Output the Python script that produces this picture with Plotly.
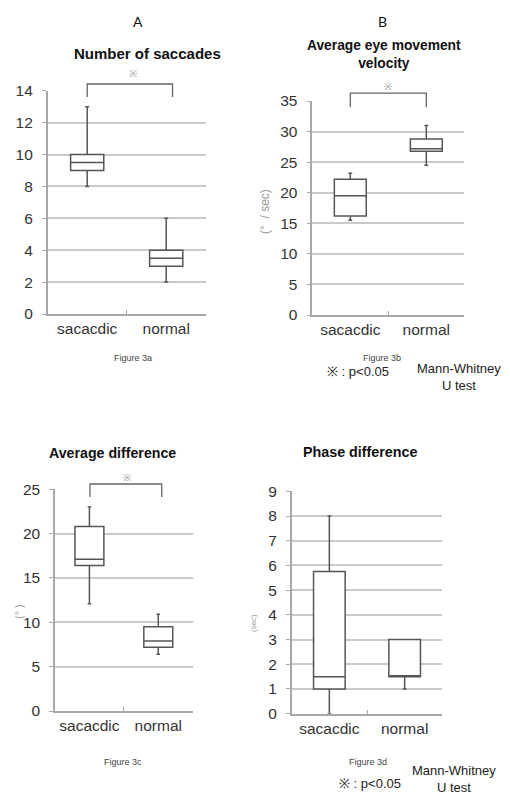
import plotly.graph_objects as go

categories = ["sacacdic", "normal"]

# Panel A: Number of saccades
a_low = [8, 2]
a_q1 = [9, 3]
a_med = [9.5, 3.5]
a_q3 = [10, 4]
a_high = [13, 6]

# Panel B: Average eye movement velocity
b_low = [15.5, 24.5]
b_q1 = [16.2, 26.8]
b_med = [19.5, 27.2]
b_q3 = [22.2, 28.8]
b_high = [23.2, 31]

# Panel C: Average difference
c_low = [12.1, 6.4]
c_q1 = [16.4, 7.2]
c_med = [17.1, 7.9]
c_q3 = [20.8, 9.5]
c_high = [23, 10.9]

# Panel D: Phase difference
d_low = [0, 1]
d_q1 = [1, 1.5]
d_med = [1.5, 1.5]
d_q3 = [5.75, 3]
d_high = [8, 3]

W, H = 510, 797
FONT = "Liberation Sans, Arial, sans-serif"
BOXLINE = "#555555"
GRID = "#cacaca"
AXIS = "#a8a8a8"

panels = [
    ("", (a_low, a_q1, a_med, a_q3, a_high), 14, 2, (47.7, 205.7), (90.7, 314)),
    ("2", (b_low, b_q1, b_med, b_q3, b_high), 35, 5, (312.3, 464.3), (101, 315)),
    ("3", (c_low, c_q1, c_med, c_q3, c_high), 25, 5, (55, 192.7), (489.3, 711)),
    ("4", (d_low, d_q1, d_med, d_q3, d_high), 9, 1, (291.7, 442.3), (491.3, 713.7)),
]

fig = go.Figure()
layout = {}
for suf, (lo, q1, med, q3, hi), ymax, dt, (x0, x1), (yt, yb) in panels:
    fig.add_trace(go.Box(
        x=categories, lowerfence=lo, q1=q1, median=med, q3=q3, upperfence=hi,
        xaxis="x" + suf, yaxis="y" + suf,
        width=0.42, whiskerwidth=0.12,
        fillcolor="white", line=dict(color=BOXLINE, width=1.5),
        showlegend=False, hoverinfo="skip",
    ))
    layout["xaxis" + suf] = dict(
        domain=[x0 / W, x1 / W], anchor="y" + suf,
        type="category", range=[-0.5, 1.5], automargin=False,
        showline=True, linecolor=AXIS, linewidth=1.5,
        ticks="inside", tickson="boundaries", ticklen=4, tickcolor=AXIS, tickwidth=1.2,
        showgrid=False, tickangle=0,
        tickfont=dict(size=15.5, color="#333333", family=FONT),
        fixedrange=True,
    )
    layout["yaxis" + suf] = dict(
        domain=[1 - yb / H, 1 - yt / H], anchor="x" + suf,
        range=[0, ymax], dtick=dt, automargin=False,
        showline=True, linecolor=AXIS, linewidth=1.5,
        ticks="outside", ticklen=4, tickcolor=AXIS, tickwidth=1.2,
        showgrid=True, gridcolor=GRID, gridwidth=1.5, zeroline=False,
        tickfont=dict(size=15.5, color="#333333", family=FONT),
        ticklabelstandoff=6, fixedrange=True,
    )

shapes = []
annotations = []

def bracket(suf, xl, xr, ytop, ydrop):
    xr_ = "x" + suf + " domain" if suf else "x domain"
    yr_ = "y" + suf + " domain" if suf else "y domain"
    shapes.append(dict(type="path",
                       path=f"M {xl} {ydrop} L {xl} {ytop} L {xr} {ytop} L {xr} {ydrop}",
                       xref=xr_, yref=yr_, line=dict(color="#666666", width=1.3)))

bracket("", 0.25, 0.79, 1.03, 0.972)
bracket("2", 0.25, 0.75, 1.037, 0.972)
bracket("3", 0.254, 0.775, 1.024, 0.965)

def ann(text, x, y, size, color="#222222", bold=False, angle=0, ref=("paper", "paper"), family=FONT):
    if bold:
        text = "<b>" + text + "</b>"
    annotations.append(dict(text=text, x=x, y=y, xref=ref[0], yref=ref[1],
                            showarrow=False, textangle=angle,
                            font=dict(size=size, color=color, family=family),
                            xanchor="center", yanchor="middle"))

def px(x, y):
    return x / W, 1 - y / H

# significance marks
ann("※", 0.54, 1.075, 10, color="#999999", ref=("x domain", "y domain"))
ann("※", 0.496, 1.07, 10, color="#999999", ref=("x2 domain", "y2 domain"))
ann("※", 0.52, 1.055, 10, color="#999999", ref=("x3 domain", "y3 domain"))

# panel letters
ann("A", *px(138, 21), 14, color="#111111", family="Lato, Liberation Sans, sans-serif")
ann("B", *px(382, 21), 14, color="#111111", family="Lato, Liberation Sans, sans-serif")

# titles
ann("Number of saccades", *px(147, 53), 15, bold=True, color="#111111")
ann("Average eye movement<br>velocity", *px(384, 55), 13.8, bold=True, color="#111111")
ann("Average difference", *px(112, 453), 14.2, bold=True, color="#111111")
ann("Phase difference", *px(360, 452), 14.3, bold=True, color="#111111")

# y-axis labels
ann("(°  / sec)", *px(265, 212), 12, color="#999999", angle=-90)
ann("(° )", *px(19, 612), 11, color="#999999", angle=-90)
ann("(sec)", *px(253, 623), 8, color="#999999", angle=-90)

# figure captions
ann("Figure 3a", *px(133, 358), 9, color="#444444")
ann("Figure 3b", *px(382, 358), 9, color="#444444")
ann("Figure 3c", *px(123, 762), 9, color="#444444")
ann("Figure 3d", *px(368, 762), 9, color="#444444")

# footnotes
ann("※ : p<0.05", *px(358, 371), 13, color="#222222")
ann("Mann-Whitney<br>U test", *px(459, 377), 13, color="#222222")
ann("※ : p<0.05", *px(370, 783), 13, color="#222222")
ann("Mann-Whitney<br>U test", *px(454, 779), 13, color="#222222")

fig.update_layout(
    width=W, height=H, autosize=False,
    margin=dict(l=0, r=0, t=0, b=0, autoexpand=False),
    paper_bgcolor="white", plot_bgcolor="white",
    font=dict(family=FONT, color="#222222"),
    shapes=shapes, annotations=annotations,
    showlegend=False,
    **layout,
)

fig.write_html("out.html", config={"displayModeBar": False},
               post_script="document.body.style.margin='0';document.body.style.overflow='hidden';")
